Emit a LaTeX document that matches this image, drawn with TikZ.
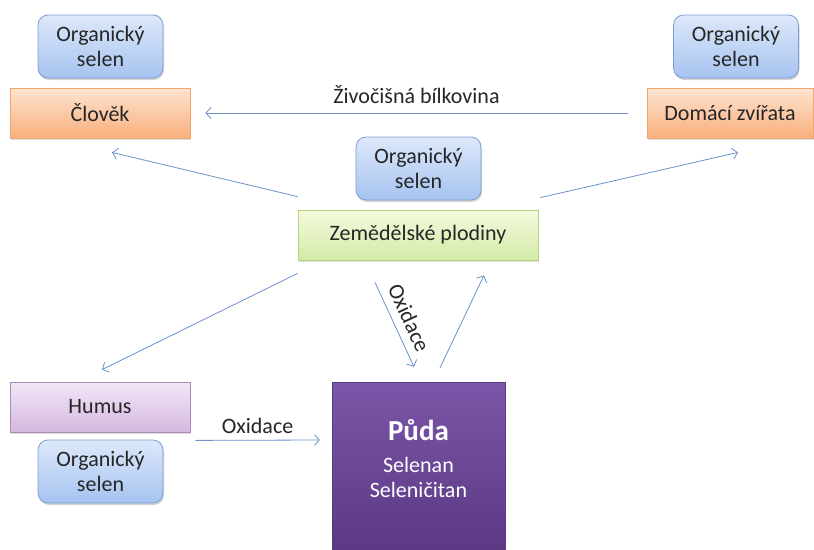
\documentclass[tikz,border=0pt]{standalone}
\usepackage{fontspec}
\setmainfont{Carlito}
\usetikzlibrary{arrows.meta,shadows,calc}
\definecolor{arrc}{HTML}{6A92C8}
\definecolor{bluetop}{HTML}{DDE8FA}
\definecolor{bluebot}{HTML}{A6C3F0}
\definecolor{blueedge}{HTML}{7D9FD3}
\definecolor{ortop}{HTML}{FDE3CF}
\definecolor{orbot}{HTML}{F9B07E}
\definecolor{oredge}{HTML}{F2A66C}
\definecolor{grtop}{HTML}{F5FADF}
\definecolor{grbot}{HTML}{D3EAA6}
\definecolor{gredge}{HTML}{B5D47C}
\definecolor{pltop}{HTML}{F3E6F7}
\definecolor{plbot}{HTML}{D4B8E0}
\definecolor{pledge}{HTML}{A98BB6}
\definecolor{pdtop}{HTML}{7C56A8}
\definecolor{pdbot}{HTML}{5A3884}
\begin{document}
\begin{tikzpicture}[x=1pt,y=-1pt,
  txt/.style={font=\fontsize{22}{25}\selectfont, text=black!85},
  selbox/.style={txt, draw=blueedge, line width=0.8pt, rounded corners=10pt,
    top color=bluetop, bottom color=bluebot, minimum width=125pt, minimum height=63pt,
    align=center, inner sep=0pt,
    drop shadow={opacity=0.35, shadow xshift=1pt, shadow yshift=-2pt}},
  rectbox/.style={txt, line width=0.8pt, minimum height=50pt, inner sep=0pt,
    drop shadow={opacity=0.25, shadow xshift=1pt, shadow yshift=-2pt}},
  orbox/.style={rectbox, draw=oredge, top color=ortop, bottom color=orbot},
  grbox/.style={rectbox, draw=gredge, top color=grtop, bottom color=grbot},
  plbox/.style={rectbox, draw=pledge, top color=pltop, bottom color=plbot},
  arr/.style={draw=arrc, line width=0.8pt, -{Straight Barb[length=5pt,width=11pt]}},
  lbl/.style={txt}
]
\useasboundingbox (0,0) rectangle (814,549);

% boxes
\node[selbox] (s1) at (100.5,46.5) {Organický\\selen};
\node[orbox, minimum width=180pt] (clovek) at (100,113) {Člověk};

\node[selbox] (s2) at (736,46.5) {Organický\\selen};
\node[orbox, minimum width=166pt] (dom) at (730,113) {Domácí zvířata};

\node[selbox] (s3) at (418.5,168.5) {Organický\\selen};
\node[grbox, minimum width=240pt] (zem) at (418,235) {Zemědělské plodiny};

\node[plbox, minimum width=180pt] (humus) at (100,407) {Humus};
\node[selbox] (s4) at (100.5,471.5) {Organický\\selen};

\node[draw=pdbot, top color=pdtop, bottom color=pdbot, minimum width=173pt,
  minimum height=172pt, inner sep=0pt,
  drop shadow={opacity=0.25, shadow xshift=1pt, shadow yshift=-2pt}] (puda) at (418.5,468) {};
\node[font=\bfseries\fontsize{29}{30}\selectfont, text=white] (pudat) at ($(puda.north)+(0,48)$) {Půda};
\node[txt, text=white, align=center] (pudas) at ($(puda.north)+(0,96)$) {Selenan\\Seleničitan};

% connectors
\draw[arr] ($(dom.west)+(-19,0)$) -- node[lbl, above=6pt] (zivl) {Živočišná bílkovina} ($(clovek.east)+(15,0)$);
\draw[arr] ($(zem.north west)+(0,-13)$) -- ($(clovek.south)+(12,14)$);
\draw[arr] ($(zem.north east)+(2,-12)$) -- ($(dom.south)+(8,14)$);
\draw[arr] ($(zem.south west)+(0,13)$) -- ($(humus.north)+(2,-12)$);
\draw[arr] ($(zem.south)+(-43,22)$) -- node[lbl, sloped, above=8pt, inner sep=0pt] (oxl1) {Oxidace} ($(puda.north)+(-4.5,-15)$);
\draw[arr] ($(puda.north)+(21.5,-14)$) -- ($(zem.south)+(66,15)$);
\draw[arr] ($(humus.south east)+(5,8)$) -- node[lbl, above=3pt] (oxl2) {Oxidace} ($(puda.west)+(-12,-28)$);
\end{tikzpicture}
\end{document}
